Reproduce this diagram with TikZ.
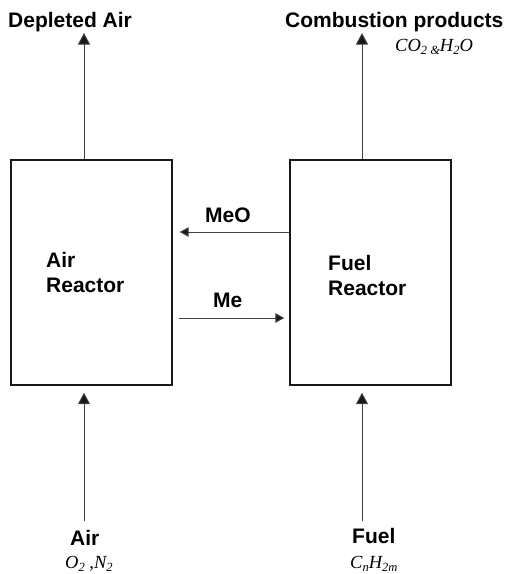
\documentclass[tikz,border=0pt]{standalone}
\usepackage{fontspec}
\setmainfont{Liberation Sans}
\newfontfamily\tmsfont{Liberation Serif}
\usetikzlibrary{arrows.meta}
\newcommand\sbx[1]{\raisebox{-0.4ex}{\fontsize{12.5}{13}\selectfont #1}}
\begin{document}
\begin{tikzpicture}[x=1pt,y=-1pt,
  box/.style={draw=black!90, line width=1.4pt, minimum width=161pt, minimum height=225pt, inner sep=0pt},
  flow/.style={draw=black!75, line width=1pt},
  vtip/.style={-{Triangle[length=11.5pt,width=12pt,fill=black!90]}},
  htip/.style={-{Triangle[length=9pt,width=9.5pt,fill=black!90]}},
  lbl/.style={font=\fontsize{21}{25}\selectfont\bfseries, inner sep=0pt, anchor=base west},
  chem/.style={font=\fontsize{18.5}{22}\selectfont\tmsfont\itshape, inner sep=0pt, anchor=base west}]
\useasboundingbox (0,0) rectangle (508,574);
% boxes
\node[box] (air) at (91.5,272.5) {};
\node[box] (fuel) at (370.5,272.5) {};
% box labels
\node[lbl] (airl1) at (46,267) {Air};
\node[lbl] (airl2) at (46,292) {Reactor};
\node[lbl] (fuell1) at (328,270) {Fuel};
\node[lbl] (fuell2) at (328,295) {Reactor};
% top labels
\node[lbl] (dep) at (8,27) {Depleted Air};
\node[lbl] (comb) at (285,27) {Combustion products};
\node[chem] (combchem) at (395,51) {CO\sbx{2 \&}H\sbx{2}O};
% bottom labels
\node[lbl] (airin) at (70,545) {Air};
\node[chem] (airchem) at (65,568.5) {O\sbx{2} ,N\sbx{2}};
\node[lbl] (fuelin) at (352,543) {Fuel};
\node[chem] (fuelchem) at (350,568.5) {C\sbx{n}H\sbx{2m}};
% middle labels
\node[lbl] (meo) at (205,222) {MeO};
\node[lbl] (me) at (213,307) {Me};
% coordinates
\coordinate (airout) at (84,33);
\coordinate (fuelout) at (362,33);
\coordinate (airsrc) at (84,521);
\coordinate (fuelsrc) at (362,521);
\coordinate (meoy) at (0,232);
\coordinate (mey) at (0,318);
% connectors
\draw[flow,vtip] (air.north -| airout) -- (airout);
\draw[flow,vtip] (fuel.north -| fuelout) -- (fuelout);
\draw[flow,vtip,shorten >=7pt] (airsrc) -- (air.south -| airsrc);
\draw[flow,vtip,shorten >=7pt] (fuelsrc) -- (fuel.south -| fuelsrc);
\draw[flow,htip,shorten >=7pt] (fuel.west |- meoy) -- (air.east |- meoy);
\draw[flow,htip,shorten <=6pt,shorten >=5pt] (air.east |- mey) -- (fuel.west |- mey);
\end{tikzpicture}
\end{document}
